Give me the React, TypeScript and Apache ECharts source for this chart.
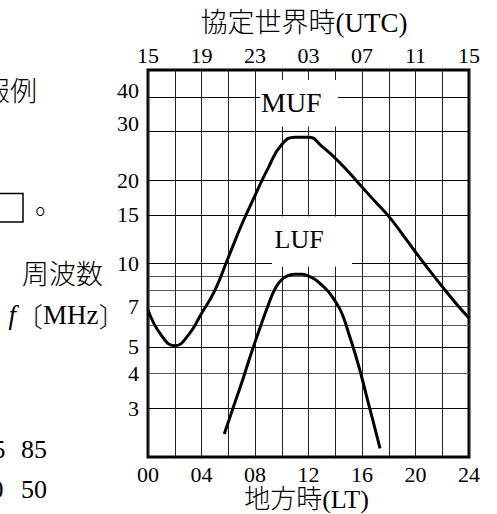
import React, { useEffect, useRef } from 'react';
import * as echarts from 'echarts';

// Local time (LT) hours; top axis shows UTC = LT + 15 (mod 24)
const utcOffsetHours = 15;
const ltGridHours = [0, 2, 4, 6, 8, 10, 12, 14, 16, 18, 20, 22, 24];
const ltLabelHours = [0, 4, 8, 12, 16, 20, 24];
const yLabelValues = [3, 4, 5, 7, 10, 15, 20, 30, 40];
const yGridValues = [3, 4, 5, 6, 7, 8, 9, 10, 15, 20, 30, 40];
const yGridColors = ['#000', '#555', '#000', '#555', '#555', '#555', '#555', '#000', '#000', '#000', '#000', '#000'];

// MUF curve: [LT hour, frequency MHz]
const mufData: [number, number][] = [
  [0, 6.8], [1, 5.5], [2, 5.05], [3, 5.5], [4, 6.6], [5, 8], [6, 10.5], [7, 13.8],
  [8, 17.6], [9, 22.2], [10, 26.9], [11, 28.6], [12, 28.6], [13, 26.5], [14, 24.0],
  [15, 21.4], [16, 18.9], [17, 16.7], [18, 14.8], [19, 12.8], [20, 11.0], [21, 9.5],
  [22, 8.25], [23, 7.2], [24, 6.35],
];

// LUF curve: [LT hour, frequency MHz]
const lufData: [number, number][] = [
  [5.7, 2.42], [6.5, 3.15], [7, 3.7], [7.5, 4.4], [8, 5.2], [8.5, 6.1], [9, 7.1],
  [9.5, 8.1], [10, 8.75], [10.5, 9.05], [11, 9.15], [11.5, 9.15], [12, 9.0],
  [12.5, 8.75], [13, 8.35], [13.5, 7.9], [14, 7.3], [14.5, 6.6], [15, 5.6],
  [15.5, 4.7], [16, 3.85], [16.5, 3.1], [17, 2.5], [17.35, 2.15],
];

const SERIF = "'Liberation Serif', 'Noto Sans CJK JP', serif";
const MIX = "'Liberation Serif', 'Noto Sans CJK JP', sans-serif";
const CJK = "'Noto Sans CJK JP', sans-serif";

const pad2 = (n: number) => (n < 10 ? '0' + n : String(n));

export default function App() {
  const ref = useRef<HTMLDivElement>(null);
  useEffect(() => {
    const chart = echarts.init(ref.current!, null, { renderer: 'svg' });
    const txt = (text: string, x: number, y: number, size: number, align: string, extra: any = {}) => ({
      type: 'text',
      x,
      y,
      z: 60,
      style: {
        text,
        fill: '#000',
        fontSize: size,
        fontFamily: MIX,
        fontWeight: 300,
        textAlign: align,
        textVerticalAlign: 'middle',
        ...extra,
      },
    });
    const xLabelBase = {
      fontSize: 22,
      lineHeight: 20,
      color: '#000',
      fontFamily: SERIF,
      showMinLabel: true,
      showMaxLabel: true,
      customValues: ltLabelHours,
    };
    chart.setOption({
      animation: false,
      backgroundColor: '#fff',
      grid: {
        left: 148,
        right: 28,
        top: 70,
        bottom: 57,
        show: true,
        borderColor: '#000',
        borderWidth: 3,
        backgroundColor: 'transparent',
      },
      xAxis: [
        {
          type: 'value',
          min: 0,
          max: 24,
          position: 'bottom',
          axisLine: { show: false },
          axisTick: { show: false, customValues: ltGridHours },
          axisLabel: { ...xLabelBase, margin: 7, formatter: (v: number) => pad2(v) },
          splitLine: { show: true, lineStyle: { color: '#222', width: 1 } },
        },
        {
          type: 'value',
          min: 0,
          max: 24,
          position: 'top',
          axisLine: { show: false },
          axisTick: { show: false, customValues: ltGridHours },
          axisLabel: {
            ...xLabelBase,
            margin: 5,
            formatter: (v: number) => pad2((v + utcOffsetHours) % 24),
          },
          splitLine: { show: false },
        },
      ],
      yAxis: {
        type: 'log',
        logBase: 10,
        min: 2,
        max: 50,
        axisLine: { show: false },
        axisTick: { show: false, customValues: yGridValues },
        axisLabel: {
          customValues: yLabelValues,
          margin: 9,
          fontSize: 22,
          color: '#000',
          fontFamily: SERIF,
          formatter: (v: number) => {
            const r = Math.round(v);
            if (r === 40) return '{u40|40}';
            if (r === 30) return '{u30|30}';
            return String(r);
          },
          rich: {
            u40: { fontSize: 22, fontFamily: SERIF, color: '#000', padding: [0, 0, 12, 0] },
            u30: { fontSize: 22, fontFamily: SERIF, color: '#000', padding: [0, 0, 16, 0] },
          },
        },
        splitLine: { show: true, lineStyle: { color: yGridColors, width: 1 } },
      },
      series: [
        {
          name: 'MUF',
          type: 'line',
          data: mufData,
          smooth: 0.5,
          symbol: 'none',
          showSymbol: false,
          lineStyle: { color: '#000', width: 3 },
          z: 5,
        },
        {
          name: 'LUF',
          type: 'line',
          data: lufData,
          smooth: 0.5,
          symbol: 'none',
          showSymbol: false,
          lineStyle: { color: '#000', width: 3 },
          z: 5,
        },
      ],
      graphic: [
        { type: 'rect', z: 50, shape: { x: 260, y: 80, width: 78, height: 46.5 }, style: { fill: '#fff' } },
        { type: 'rect', z: 50, shape: { x: 272, y: 216.5, width: 80, height: 50 }, style: { fill: '#fff' } },
        txt('MUF', 261, 102, 28, 'left', { fontFamily: SERIF, fontWeight: 'normal' }),
        txt('LUF', 274.5, 239.5, 26, 'left', { fontFamily: SERIF, fontWeight: 'normal' }),
        txt('協定世界時(UTC)', 304, 23, 27, 'center'),
        txt('地方時(LT)', 306.5, 499.5, 26, 'center', { lineHeight: 25 }),
        txt('報例', 37, 91.5, 27, 'right'),
        { type: 'rect', z: 50, shape: { x: -10, y: 193.5, width: 33, height: 28.5 }, style: { fill: 'none', stroke: '#000', lineWidth: 1.5 } },
        txt('。', 35, 205, 27, 'left'),
        txt('周波数', 62.5, 275, 27, 'center'),
        txt('{f|f}{b|〔}{m|MHz}{b|〕}', 67, 315, 27, 'center', {
          rich: {
            f: { fontFamily: SERIF, fontStyle: 'italic', fontSize: 27, fill: '#000' },
            b: { fontFamily: CJK, fontSize: 27, fontWeight: 300, fill: '#000' },
            m: { fontFamily: SERIF, fontSize: 27, fill: '#000' },
          },
        }),
        txt('5', 5.5, 449, 26, 'right', { fontFamily: SERIF, fontWeight: 'normal' }),
        txt('85', 21, 449, 26, 'left', { fontFamily: SERIF, fontWeight: 'normal' }),
        txt('0', 3.5, 489, 26, 'right', { fontFamily: SERIF, fontWeight: 'normal' }),
        txt('50', 21, 489, 26, 'left', { fontFamily: SERIF, fontWeight: 'normal' }),
      ],
    });
    return () => chart.dispose();
  }, []);
  return <div ref={ref} style={{ position: 'fixed', left: 0, top: 0, width: 497, height: 514 }} />;
}
